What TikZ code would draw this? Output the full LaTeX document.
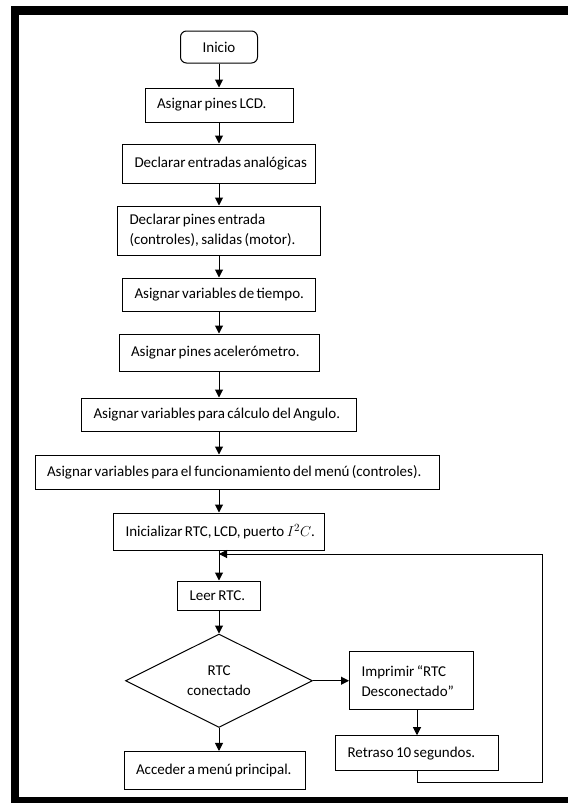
\documentclass[tikz,border=0pt]{standalone}
\usepackage{fontspec}
\setmainfont{Carlito}
\usepackage{tikz}
\usetikzlibrary{shapes.geometric, arrows.meta, positioning}
\newcommand{\tightspace}{\spaceskip=2.4pt plus 1pt minus 0.5pt\relax}

\begin{document}
\begin{tikzpicture}[
    x=1pt, y=-1pt,
    every node/.style={font=\fontsize{15}{20}\selectfont},
    startbox/.style={rectangle, rounded corners=6pt, draw, line width=1pt, minimum width=77pt, minimum height=32pt, inner sep=0pt},
    procbox/.style={rectangle, draw, line width=1pt, align=flush left, inner xsep=12pt, inner ysep=0pt, execute at begin node=\tightspace},
    decision/.style={diamond, draw, line width=1pt, minimum width=187pt, minimum height=87pt, inner sep=0pt, align=center},
    flow/.style={-{Triangle[length=8pt, width=8pt]}, line width=1pt}
  ]
    % Frame
    \useasboundingbox (0,0) rectangle (568,803);
    \fill (11,6) rectangle (568,15);
    \fill (11,6) rectangle (19,803);
    \fill (11,797) rectangle (568,803);

    % Nodes
    \node (inicio) [startbox] at (219,47) {Inicio};
    \node (pinesLCD) [procbox, below=24pt of inicio, text width=124pt, minimum height=34pt] {\mbox{Asignar pines LCD.}};
    \node (entradas) [procbox, below=21pt of pinesLCD, text width=169pt, minimum height=39pt] {\mbox{Declarar entradas analógicas}};
    \node (pinesIO) [procbox, below=22pt of entradas, text width=179pt, minimum height=49pt] {\mbox{Declarar pines entrada}\\\mbox{(controles), salidas (motor).}};
    \node (tiempo) [procbox, below=22pt of pinesIO, text width=169pt, minimum height=33pt] {\mbox{Asignar variables de tiempo.}};
    \node (acel) [procbox, below=22pt of tiempo, text width=176pt, minimum height=37pt] {\mbox{Asignar pines acelerómetro.}};
    \node (angulo) [procbox, below=26pt of acel, text width=251pt, minimum height=33pt] {\mbox{Asignar variables para cálculo del Angulo.}};
    \node (menuvars) [procbox, below=23pt of angulo, xshift=18pt, text width=380pt, minimum height=34pt] {\mbox{Asignar variables para el funcionamiento del menú (controles).}};
    \node (init) [procbox, below=23pt of menuvars, xshift=-18pt, text width=187pt, minimum height=37pt] {\mbox{Inicializar RTC, LCD, puerto $I^{2}C$.}};
    \node (leer) [procbox, below=30pt of init, text width=59pt, minimum height=29pt] {\mbox{Leer RTC.}};
    \node (conectado) [decision, below=23pt of leer] {RTC\\conectado};
    \node (acceder) [procbox, below=23pt of conectado, xshift=-4.5pt, text width=157pt, minimum height=38pt] {\mbox{Acceder a menú principal.}};

    % Error branch
    \node (imprimir) [procbox, right=36pt of conectado, text width=100pt, minimum height=58pt] {\mbox{Imprimir “RTC}\\\mbox{Desconectado”}};
    \node (retraso) [procbox, below=25pt of imprimir, xshift=5.5pt, text width=139pt, minimum height=35pt] {\mbox{Retraso 10 segundos.}};
    \coordinate (join) at (219,554);
    \coordinate (loopcorner) at (542,782);

    % Connections
    \draw [flow] (inicio) -- (pinesLCD);
    \draw [flow] (pinesLCD) -- (entradas);
    \draw [flow] (entradas) -- (pinesIO);
    \draw [flow] (pinesIO) -- (tiempo);
    \draw [flow] (tiempo) -- (acel);
    \draw [flow] (acel) -- (angulo);
    \draw [flow] (angulo) -- (angulo |- menuvars.north);
    \draw [flow] (menuvars.south -| init) -- (init);
    \draw [flow] (init) -- (leer);
    \draw [flow] (leer) -- (conectado);
    \draw [flow] (conectado) -- (conectado |- acceder.north);
    \draw [flow] (conectado) -- (imprimir);
    \draw [flow] (imprimir.south -| retraso) -- (retraso);
    \draw [flow] (retraso.south) |- (loopcorner) |- (join);
\end{tikzpicture}
\end{document}
